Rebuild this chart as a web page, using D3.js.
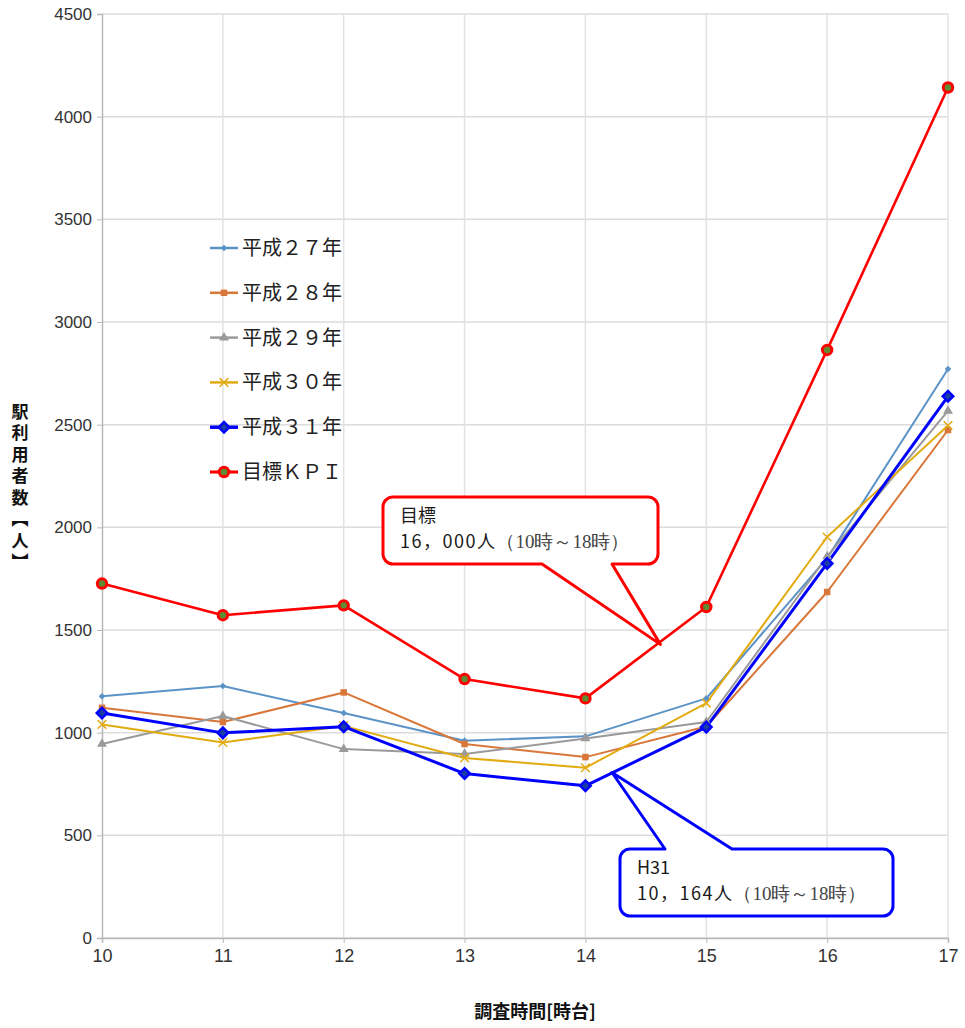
<!DOCTYPE html>
<html>
  <head>
    <meta charset="utf-8">
    <script src="https://d3js.org/d3.v7.min.js"></script>
    <style>
      body { margin: 0; background: #fff; }
      text { font-family: "Liberation Sans", Arial, "Noto Sans CJK JP", sans-serif; }
      .jp { font-family: "Noto Sans CJK JP", sans-serif; }
    </style>
  </head>
  <body>
    <div id="container"></div>

    <script type="text/javascript">
      // hours on the x axis
      var hours = [10, 11, 12, 13, 14, 15, 16, 17];

      // station users per hour
      var h27 = [1177, 1227, 1096, 961, 982, 1167, 1850, 2771];
      var h28 = [1121, 1052, 1196, 945, 881, 1030, 1685, 2474];
      var h29 = [945, 1081, 920, 896, 972, 1052, 1858, 2567];
      var h30 = [1040, 952, 1033, 877, 829, 1144, 1953, 2496];
      var h31 = [1096, 999, 1029, 801, 741, 1027, 1824, 2638];
      var kpi = [1726, 1572, 1620, 1261, 1167, 1612, 2864, 4142];

      var seriesNames = ["平成２７年", "平成２８年", "平成２９年", "平成３０年", "平成３１年", "目標ＫＰＩ"];
      var yTicks = [0, 500, 1000, 1500, 2000, 2500, 3000, 3500, 4000, 4500];

      var width = 965,
          height = 1028;
      var margin = { top: 14, right: 17, bottom: 90, left: 102 };

      var svg = d3.select("#container").append("svg")
        .attr("width", width)
        .attr("height", height);

      var x = d3.scaleLinear().domain([10, 17]).range([margin.left, width - margin.right]);
      var y = d3.scaleLinear().domain([0, 4500]).range([height - margin.bottom, margin.top]);

      // grid
      svg.append("g").selectAll("line.h")
        .data(yTicks).enter().append("line")
          .attr("x1", margin.left).attr("x2", width - margin.right)
          .attr("y1", function(d) { return y(d); })
          .attr("y2", function(d) { return y(d); })
          .attr("stroke", "#dcdcdc").attr("stroke-width", 1.5);
      svg.append("g").selectAll("line.v")
        .data(hours.slice(1)).enter().append("line")
          .attr("x1", function(d) { return x(d); })
          .attr("x2", function(d) { return x(d); })
          .attr("y1", margin.top).attr("y2", height - margin.bottom)
          .attr("stroke", "#e2e2e2").attr("stroke-width", 1.5);

      // axes
      var yAxis = svg.append("g")
        .attr("transform", "translate(" + margin.left + ",0)")
        .call(d3.axisLeft(y).tickValues(yTicks).tickSize(5).tickPadding(5).tickFormat(d3.format("d")));
      var xAxis = svg.append("g")
        .attr("transform", "translate(0," + (height - margin.bottom) + ")")
        .call(d3.axisBottom(x).tickValues(hours).tickSize(5).tickPadding(6).tickFormat(d3.format("d")));
      [yAxis, xAxis].forEach(function(a) {
        a.select(".domain").attr("stroke", "#b8b8b8").attr("stroke-width", 1.5);
        a.selectAll(".tick line").attr("stroke", "#b8b8b8");
        a.selectAll(".tick text").attr("fill", "#333").attr("font-size", 17)
          .attr("font-family", "'Liberation Sans', Arial, sans-serif");
      });
      xAxis.selectAll(".tick text").attr("font-size", 18);

      // axis titles
      svg.append("text").attr("class", "jp")
        .attr("x", 20).attr("y", 403)
        .style("writing-mode", "vertical-rl")
        .style("text-orientation", "upright")
        .attr("letter-spacing", 4.5)
        .attr("font-size", 17).attr("font-weight", "bold").attr("fill", "#111")
        .text("駅利用者数【人】");
      svg.append("text").attr("class", "jp")
        .attr("x", 535).attr("y", 1018)
        .attr("text-anchor", "middle")
        .attr("font-size", 18).attr("font-weight", "bold").attr("fill", "#111")
        .text("調査時間[時台]");

      var series = [
        { name: seriesNames[0], values: h27, color: "#5b93c7", width: 2, symbol: d3.symbolSquare, rot: 45, size: 22, fill: "#5b93c7", sw: 0 },
        { name: seriesNames[1], values: h28, color: "#d9773a", width: 2, symbol: d3.symbolSquare, rot: 0, size: 42, fill: "#d9773a", sw: 0 },
        { name: seriesNames[2], values: h29, color: "#9a9a9a", width: 2, symbol: d3.symbolTriangle, rot: 0, size: 42, fill: "#9a9a9a", sw: 0 },
        { name: seriesNames[3], values: h30, color: "#e2ab10", width: 2, symbol: d3.symbolTimes, rot: 0, size: 50, fill: "none", sw: 1.5 },
        { name: seriesNames[4], values: h31, color: "#0000ff", width: 3, symbol: d3.symbolSquare, rot: 45, size: 55, fill: "#1a3fa0", sw: 2.5 },
        { name: seriesNames[5], values: kpi, color: "#ff0000", width: 2.6, symbol: d3.symbolCircle, rot: 0, size: 70, fill: "#5e8c32", sw: 3 }
      ];

      var line = d3.line()
        .x(function(d, i) { return x(hours[i]); })
        .y(function(d) { return y(d); });

      function drawMarker(g, s) {
        g.append("path")
          .attr("d", d3.symbol().type(s.symbol).size(s.size))
          .attr("transform", "rotate(" + s.rot + ")")
          .attr("fill", s.fill)
          .attr("stroke", s.color)
          .attr("stroke-width", s.sw);
      }

      // callouts (anchored in data units)
      function callout(spec) {
        var g = svg.append("g");
        var tx = x(spec.tip[0]), ty = y(spec.tip[1]);
        var bx = spec.box[0], by = spec.box[1], bw = spec.box[2], bh = spec.box[3], r = 10;
        var p = d3.path();
        p.moveTo(bx + r, by);
        if (spec.top) {
          p.lineTo(spec.base[0], by); p.lineTo(tx, ty); p.lineTo(spec.base[1], by);
        }
        p.lineTo(bx + bw - r, by);
        p.arcTo(bx + bw, by, bx + bw, by + r, r);
        p.lineTo(bx + bw, by + bh - r);
        p.arcTo(bx + bw, by + bh, bx + bw - r, by + bh, r);
        if (!spec.top) {
          p.lineTo(spec.base[1], by + bh); p.lineTo(tx, ty); p.lineTo(spec.base[0], by + bh);
        }
        p.lineTo(bx + r, by + bh);
        p.arcTo(bx, by + bh, bx, by + bh - r, r);
        p.lineTo(bx, by + r);
        p.arcTo(bx, by, bx + r, by, r);
        p.closePath();
        g.append("path").attr("d", p.toString())
          .attr("fill", "#fff").attr("stroke", spec.color).attr("stroke-width", 3)
          .attr("stroke-linejoin", "round");
        g.append("text").attr("class", "jp")
          .attr("x", bx + 17).attr("y", by + 25)
          .attr("font-size", 18).attr("fill", "#1a1a1a")
          .text(spec.line1);
        var t2 = g.append("text").attr("class", "jp")
          .attr("x", bx + 17).attr("y", by + 51)
          .attr("font-size", 18).attr("fill", "#1a1a1a");
        t2.append("tspan").attr("letter-spacing", 1.5).text(spec.line2);
        t2.append("tspan").attr("font-size", 19).attr("fill", "#444")
          .attr("font-family", "'Liberation Serif', 'DejaVu Serif', serif")
          .text("（10時～18時）");
      }

      // lines and markers
      series.forEach(function(s) {
        svg.append("path")
          .datum(s.values)
          .attr("d", line)
          .attr("fill", "none")
          .attr("stroke", s.color)
          .attr("stroke-width", s.width)
          .attr("stroke-linejoin", "round");
      });
      series.forEach(function(s) {
        svg.append("g").selectAll("g")
          .data(s.values).enter().append("g")
            .attr("transform", function(d, i) { return "translate(" + x(hours[i]) + "," + y(d) + ")"; })
            .each(function() { drawMarker(d3.select(this), s); });
      });

      callout({ color: "#ff0000", tip: [14.62, 1430], box: [383, 497, 275, 67], base: [542, 612], top: false,
                line1: "目標", line2: "16，000人" });
      callout({ color: "#0000ff", tip: [14.22, 806], box: [620, 849, 273, 67], base: [665, 732], top: true,
                line1: "H31", line2: "10，164人" });

      // legend
      var legend = svg.append("g").attr("transform", "translate(210,248)");
      series.forEach(function(s, i) {
        var row = legend.append("g").attr("transform", "translate(0," + (i * 44.8) + ")");
        row.append("line").attr("x1", 0).attr("x2", 28)
          .attr("stroke", s.color).attr("stroke-width", s.width + 0.5);
        var m = row.append("g").attr("transform", "translate(14,0)");
        drawMarker(m, s);
        row.append("text").attr("class", "jp")
          .attr("x", 32).attr("y", 7)
          .attr("font-size", 20).attr("fill", "#222")
          .text(s.name);
      });
    </script>
  </body>
</html>
